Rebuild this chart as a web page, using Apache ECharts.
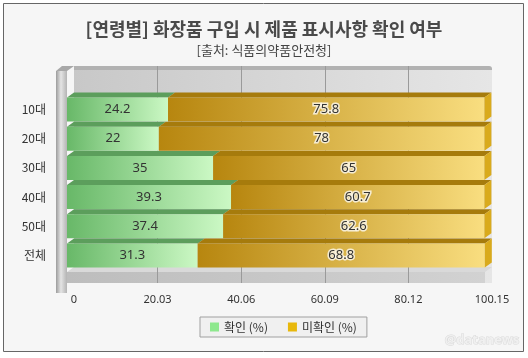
<!DOCTYPE html>
<html><head><meta charset="utf-8">
<script src="https://cdn.jsdelivr.net/npm/echarts/dist/echarts.min.js"></script>
<style>html,body{margin:0;padding:0;background:#fff}#c{width:528px;height:358px}</style>
</head><body><div id="c"></div>
<script>
const categories = ['10대','20대','30대','40대','50대','전체'];
const confirmed = [24.2, 22, 35, 39.3, 37.4, 31.3];
const unconfirmed = [75.8, 78, 65, 60.7, 62.6, 68.8];
const tickLabels = ['0','20.03','40.06','60.09','80.12','100.15'];
const seriesNames = ['확인 (%)','미확인 (%)'];
const titleText = '[연령별] 화장품 구입 시 제품 표시사항 확인 여부';
const subtitleText = '[출처: 식품의약품안전청]';
const watermarkText = '@datanews';

const axisMax = Number(tickLabels[tickLabels.length-1]);
const axisStep = Number(tickLabels[1]);
const DX = 7, DY = 5, BAR_H = 24;

const greenStyle = {top:'#5c9e5c', f0:'#68b868', f1:'#cbf8c4', side:'#5c9e5c', glow:null};
const goldStyle = {top:'#a67b0c', f0:'#b7860f', f1:'#f9de80', side:'#d9aa1c', glow:'rgba(255,255,255,0.75)'};

function makeRender(colors, isLast){
  return function(params, api){
    const cat = api.value(0), s = api.value(1), e = api.value(2);
    const p0 = api.coord([s, cat]), p1 = api.coord([e, cat]);
    const x0 = p0[0], x1 = p1[0], y = p0[1] - BAR_H/2;
    const children = [
      {type:'polygon', shape:{points:[[x0,y],[x0+DX,y-DY],[x1+DX,y-DY],[x1,y]]}, style:{fill:colors.top}},
      {type:'rect', shape:{x:x0, y:y, width:x1-x0, height:BAR_H},
        style:{fill:new echarts.graphic.LinearGradient(0,0,1,0,[{offset:0,color:colors.f0},{offset:1,color:colors.f1}])}}
    ];
    if (isLast) {
      children.push({type:'polygon', shape:{points:[[x1,y],[x1+DX,y-DY],[x1+DX,y-DY+BAR_H],[x1,y+BAR_H]]}, style:{fill:colors.side}});
    }
    const ts = {text:String(api.value(3)), x:(x0+x1)/2, y:p0[1], align:'center', verticalAlign:'middle',
      fill:'#333', font:'13px "Noto Sans"'};
    if (colors.glow) { ts.stroke = colors.glow; ts.lineWidth = 3; }
    children.push({type:'text', style:ts});
    return {type:'group', children:children};
  };
}

const greenData = categories.map((c,i)=>[i, 0, confirmed[i], confirmed[i]]);
const goldData = categories.map((c,i)=>[i, confirmed[i], confirmed[i]+unconfirmed[i], unconfirmed[i]]);

const chart = echarts.init(document.getElementById('c'), null, {renderer:'canvas'});
chart.setOption({
  animation:false,
  backgroundColor:'#ffffff',
  title:[
    {text:titleText, left:'center', top:15, padding:[5,5,5,5],
     textStyle:{fontSize:18, fontWeight:'bold', color:'#4a4a4a', fontFamily:'"Noto Sans CJK KR"'}},
    {text:subtitleText, left:'center', top:39, padding:[5,5,5,5],
     textStyle:{fontSize:13, fontWeight:'normal', color:'#444', fontFamily:'"Noto Sans CJK KR"'}}
  ],
  legend:{
    data:seriesNames, left:200, top:317, orient:'horizontal', padding:[4,10], itemGap:20,
    itemWidth:9, itemHeight:9, icon:'rect', borderColor:'#a0a0a0', borderWidth:1, backgroundColor:'#f0f0f0',
    textStyle:{fontSize:12, color:'#333', fontFamily:'"Noto Sans CJK KR"'}
  },
  grid:[
    {left:74, top:66, width:418, height:217},
    {left:67, top:95, width:418, height:175}
  ],
  xAxis:[
    {gridIndex:0, type:'value', min:0, max:axisMax, interval:axisStep,
     axisLine:{show:false}, axisTick:{show:false},
     splitLine:{show:true, showMinLine:false, showMaxLine:false, lineStyle:{color:'#9a9a9a', width:1}},
     axisLabel:{margin:11, color:'#333', fontSize:11, fontFamily:'"Noto Sans"', formatter:function(v, i){return tickLabels[i];}}},
    {gridIndex:1, type:'value', min:0, max:axisMax, show:false}
  ],
  yAxis:[
    {gridIndex:0, type:'value', show:false},
    {gridIndex:1, type:'category', data:categories, inverse:true,
     axisLine:{show:false}, axisTick:{show:false}, splitLine:{show:false},
     axisLabel:{margin:21, color:'#333', fontSize:12, fontFamily:'"Noto Sans CJK KR"'}}
  ],
  graphic:[
    {type:'rect', z:-20, shape:{x:3.5, y:3.5, width:520, height:348}, style:{fill:'#f6f6f6', stroke:'#666', lineWidth:1}},
    {type:'rect', z:-10, shape:{x:74, y:66, width:418, height:217, r:[0,4,0,0]},
     style:{fill:new echarts.graphic.LinearGradient(0,0,1,0,[{offset:0,color:'#c8c8c8'},{offset:1,color:'#e6e6e6'}])}},
    {type:'rect', z:-9, shape:{x:74, y:66, width:418, height:4, r:[0,3,0,0]}, style:{fill:'#b2b2b2'}},
    {type:'polygon', z:-9, shape:{points:[[67,272],[74,267],[492,267],[485,272]]}, style:{fill:'#d9d9d9'}},
    {type:'rect', z:-9, shape:{x:67, y:272, width:418, height:11},
     style:{fill:new echarts.graphic.LinearGradient(0,0,1,0,[{offset:0,color:'#bdbdbd'},{offset:1,color:'#d2d2d2'}])}},
    {type:'polygon', z:4, shape:{points:[[56,71],[62,66],[74,66],[67,71]]}, style:{fill:'#a8a8a8'}},
    {type:'rect', z:4, shape:{x:56, y:71, width:11, height:222},
     style:{fill:new echarts.graphic.LinearGradient(0,0,1,0,[{offset:0,color:'#9c9c9c'},{offset:0.45,color:'#e4e4e4'},{offset:1,color:'#b4b4b4'}])}},
    {type:'text', z:4, style:{text:watermarkText, x:482, y:340, align:'center', verticalAlign:'middle',
      font:'bold 13px "Noto Sans"', fill:'#f0f0f0', stroke:'#dadada', lineWidth:1}}
  ],
  series:[
    {name:seriesNames[0], type:'custom', xAxisIndex:1, yAxisIndex:1, z:2,
     itemStyle:{color:'#8ee88e'}, encode:{x:[1,2], y:0}, data:greenData, renderItem:makeRender(greenStyle, false)},
    {name:seriesNames[1], type:'custom', xAxisIndex:1, yAxisIndex:1, z:2,
     itemStyle:{color:'#e8b80c'}, encode:{x:[1,2], y:0}, data:goldData, renderItem:makeRender(goldStyle, true)}
  ]
});
</script></body></html>
